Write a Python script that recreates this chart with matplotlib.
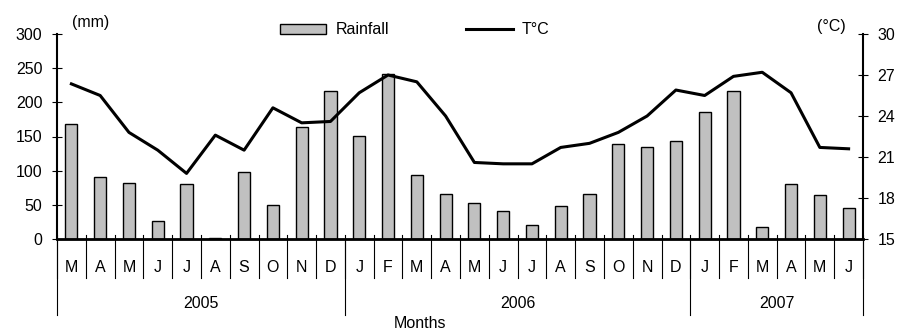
import numpy as np
import matplotlib.pyplot as plt
from matplotlib.transforms import blended_transform_factory

plt.rcParams['font.family'] = ['Liberation Sans', 'DejaVu Sans']

# data: March 2005 .. June 2007
months = ['M', 'A', 'M', 'J', 'J', 'A', 'S', 'O', 'N', 'D',
          'J', 'F', 'M', 'A', 'M', 'J', 'J', 'A', 'S', 'O', 'N', 'D',
          'J', 'F', 'M', 'A', 'M', 'J']
years = ['2005', '2006', '2007']
year_counts = [10, 12, 6]
rainfall = [168, 91, 82, 27, 80, 2, 98, 50, 164, 217,
            151, 242, 94, 66, 52, 41, 21, 48, 66, 139, 135, 144,
            186, 217, 17, 80, 64, 46]
temp = [26.35, 25.5, 22.8, 21.5, 19.8, 22.6, 21.5, 24.6, 23.5, 23.6,
        25.7, 27.0, 26.5, 24.0, 20.6, 20.5, 20.5, 21.7, 22.0, 22.8, 24.0, 25.9,
        25.5, 26.9, 27.2, 25.7, 21.7, 21.6]

fs = 11.5
x = np.arange(len(months))

fig = plt.figure(figsize=(8.98, 3.34), dpi=100)
ax = fig.add_axes([57 / 898, 1 - 239 / 334, (863 - 57) / 898, 205 / 334])
ax2 = ax.twinx()

bars = ax.bar(x, rainfall, width=0.42, color='#c0c0c0', edgecolor='black',
              linewidth=1.0, label='Rainfall', zorder=2)
line, = ax2.plot(x, temp, color='black', linewidth=2.2, label='T°C')

ax.set_xlim(-0.5, len(months) - 0.5)
ax.set_ylim(0, 300)
ax.set_yticks(np.arange(0, 301, 50))
ax2.set_ylim(15, 30)
ax2.set_yticks(np.arange(15, 31, 3))

for a in (ax, ax2):
    a.spines['top'].set_visible(False)
    a.tick_params(axis='y', labelsize=fs, direction='inout', length=7, width=0.8, pad=7)
ax2.spines['left'].set_visible(False)
ax.spines['right'].set_visible(False)
ax.spines['left'].set_linewidth(1.5)
ax2.spines['right'].set_linewidth(1.5)
ax.spines['bottom'].set_linewidth(2)

# month separators and year separators below the axis
ax.set_xticks([])
trans = blended_transform_factory(ax.transData, ax.transAxes)
for b in np.arange(len(months) + 1) - 0.5:
    ax.plot([b, b], [0.02, -0.19], color='black', lw=0.8, transform=trans, clip_on=False)
for i, m in enumerate(months):
    ax.text(i, -0.137, m, ha='center', va='center', fontsize=fs, transform=trans)

edges = np.concatenate([[0], np.cumsum(year_counts)]) - 0.5
for b in edges:
    ax.plot([b, b], [0, -0.37], color='black', lw=0.8, transform=trans, clip_on=False)
for y, lo, hi in zip(years, edges[:-1], edges[1:]):
    ax.text((lo + hi) / 2, -0.315, y, ha='center', va='center', fontsize=fs, transform=trans)

fig.text(420 / 898, 1 - 323 / 334, 'Months', ha='center', va='center', fontsize=fs)
fig.text(91 / 898, 1 - 22 / 334, '(mm)', ha='center', va='center', fontsize=fs)
fig.text(831 / 898, 1 - 27 / 334, '(°C)', ha='center', va='center', fontsize=fs)

fig.legend(handles=[bars, line], loc='center', bbox_to_anchor=(415 / 898, 1 - 30 / 334),
           ncol=2, frameon=False, fontsize=fs, handlelength=2.9, handleheight=0.6,
           columnspacing=4.8, handletextpad=0.6)

fig.savefig('out.png', dpi=100)
